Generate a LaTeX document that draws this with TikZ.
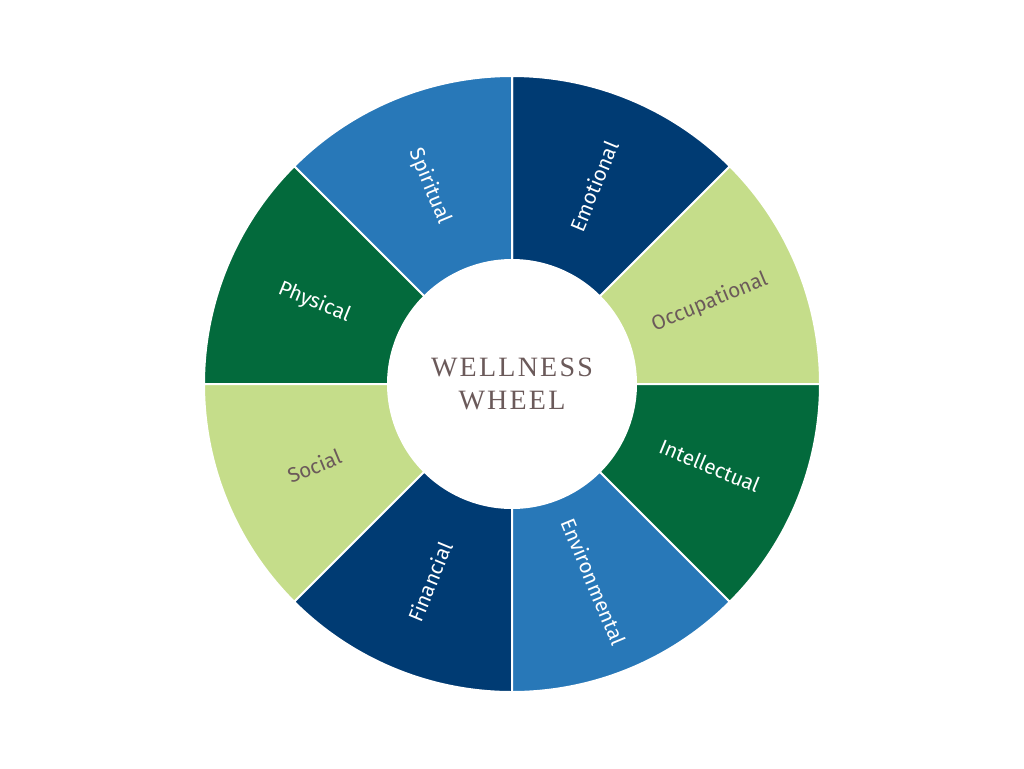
\documentclass[tikz,border=0pt]{standalone}
\usepackage{fontspec}
\setmainfont{Liberation Serif}
\newfontfamily\labelfont{Fira Sans}
\usetikzlibrary{calc}

\definecolor{navy}{RGB}{0,59,115}
\definecolor{lightgreen}{RGB}{197,221,138}
\definecolor{darkgreen}{RGB}{3,106,60}
\definecolor{midblue}{RGB}{40,120,184}
\definecolor{centertext}{RGB}{107,90,90}

\begin{document}
\begin{tikzpicture}[x=0.75pt,y=0.75pt,yscale=-1,xscale=1,
  sector/.style={draw=white,line width=1.5pt},
  sectorlabel/.style={font=\labelfont\fontsize{15.5}{18}\selectfont}]
\useasboundingbox (0,0) rectangle (1024,768);
\coordinate (hub) at (512,384);

% sectors: start angle / colour / label / text colour / text rotation
\foreach \a/\c/\t/\tc/\r in {0/lightgreen/Occupational/centertext/22.5,
  45/navy/Emotional/white/67.5,
  90/midblue/Spiritual/white/-67.5,
  135/darkgreen/Physical/white/-22.5,
  180/lightgreen/Social/centertext/22.5,
  225/navy/Financial/white/67.5,
  270/midblue/Environmental/white/-67.5,
  315/darkgreen/Intellectual/white/-22.5}{
  \draw[sector,fill=\c] ($(hub)+(-\a:124)$) -- ($(hub)+(-\a:308)$)
    arc[start angle=-\a,end angle=-\a-45,radius=308]
    -- ($(hub)+(-\a-45:124)$)
    arc[start angle=-\a-45,end angle=-\a,radius=124] -- cycle;
  \node[sectorlabel,text=\tc,rotate=\r] (lbl\a) at ($(hub)+(-\a-22.5:214)$) {\t};
}
\fill[white] (hub) circle[radius=123];

% Text Node
\node[text=centertext,align=center,font=\fontsize{21}{25}\selectfont] (title) at (hub)
  {\addfontfeature{LetterSpace=8}WELLNESS\\\addfontfeature{LetterSpace=8}WHEEL};
\end{tikzpicture}
\end{document}
